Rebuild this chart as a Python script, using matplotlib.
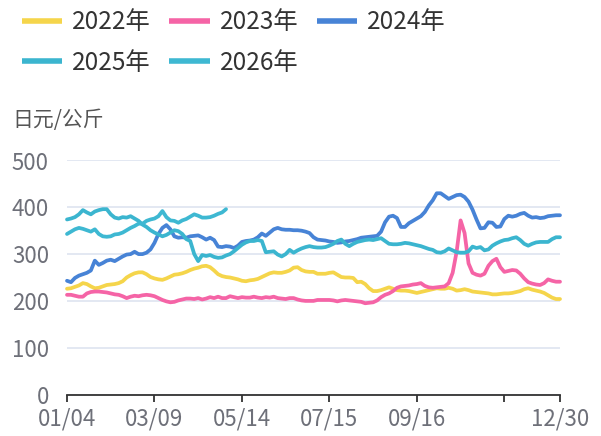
import numpy as np
import matplotlib
matplotlib.use("Agg")
import matplotlib.pyplot as plt
from matplotlib.lines import Line2D

plt.rcParams['font.family'] = ['Noto Sans CJK SC', 'DejaVu Sans']
plt.rcParams['axes.unicode_minus'] = False

# ---------------- data ----------------
tick_idx = [0, 22, 44, 66, 88, 110, 124]
tick_labels = ['01/04', '03/09', '05/14', '07/15', '09/16', '', '12/30']
y_ticks = [0, 100, 200, 300, 400, 500]

series_names = ['2022年', '2023年', '2024年', '2025年', '2026年']

y2022 = [226, 227, 230, 233, 238, 236, 231, 227, 228, 231, 234, 235, 236, 238, 242, 250, 255, 259, 261, 261,
         257, 251, 248, 246, 245, 248, 252, 256, 257, 259,
         262, 266, 269, 271, 274, 275, 272, 265, 257, 253, 251, 250, 248, 246, 243, 242, 244, 245, 247, 251,
         255, 259, 261, 260, 260, 262, 265, 271, 272, 266, 263, 262, 262,
         258, 258, 258, 260, 261, 256, 251, 250, 250, 249, 240, 241, 236, 227, 221, 221, 223, 226, 229, 226,
         223, 222, 222, 221, 219, 217, 219, 221, 223, 225, 227,
         226, 226, 228, 226, 222, 223, 225, 223, 220, 219, 218, 217, 216, 214, 214, 215, 216, 216, 217, 219,
         221, 225, 227, 224, 222, 220, 217, 212, 207, 204, 204]

y2023 = [213, 213, 211, 209, 209, 216, 219, 220, 220, 219, 218, 216, 214, 213, 210, 206, 209, 211, 210, 212,
         213, 212, 210, 206, 202, 199, 197, 198, 201, 203, 205,
         205, 204, 206, 203, 205, 208, 206, 209, 206, 206, 210, 208, 206, 208, 207, 207, 209, 207, 206, 208,
         207, 209, 206, 205, 204, 206, 206, 203, 201, 200, 200, 200,
         202, 202, 202, 202, 201, 199, 201, 202, 201, 200, 199, 198, 195, 196, 197, 201, 208, 213, 216, 221,
         228, 231, 232, 233, 235, 236, 238, 232, 229, 228, 229,
         230, 231, 238, 260, 305, 372, 345, 280, 260, 256, 254, 258, 275, 285, 290, 272, 262, 264, 266, 265,
         258, 248, 240, 237, 235, 234, 238, 246, 243, 241, 241]

y2024 = [243, 240, 249, 254, 257, 260, 265, 286, 277, 281, 286, 288, 285, 290, 295, 299, 300, 305, 300, 300,
         303, 310, 324, 343, 356, 362, 353, 338, 335, 336, 335,
         338, 339, 340, 336, 331, 335, 330, 316, 315, 317, 316, 313, 318, 326, 328, 329, 331, 336, 344, 339,
         346, 353, 356, 353, 352, 352, 351, 351, 350, 348, 345, 336,
         331, 330, 329, 327, 326, 324, 325, 327, 328, 330, 332, 335, 336, 337, 338, 339, 348, 368, 380, 382,
         377, 358, 358, 366, 371, 376, 381, 390, 404, 415, 430,
         430, 424, 418, 422, 426, 427, 422, 412, 395, 374, 355, 356, 368, 367, 358, 359, 375, 382, 380, 382,
         386, 388, 382, 378, 379, 377, 378, 381, 382, 383, 383]

y2025 = [374, 376, 379, 385, 394, 389, 385, 391, 394, 396, 396, 385, 378, 376, 379, 378, 381, 376, 371, 363,
         358, 351, 346, 342, 338, 341, 346, 351, 349, 343, 332,
         328, 300, 285, 298, 296, 298, 294, 292, 293, 297, 300, 306, 313, 320, 325, 328, 328, 330, 328, 304,
         305, 306, 299, 295, 300, 309, 303, 308, 312, 315, 317, 315,
         314, 314, 315, 318, 322, 328, 331, 322, 317, 322, 326, 328, 330, 331, 330, 332, 334, 328, 322, 321,
         321, 322, 324, 323, 321, 319, 317, 314, 311, 309, 304,
         303, 306, 312, 308, 304, 303, 303, 306, 316, 313, 315, 308, 310, 318, 323, 327, 330, 331, 334, 336,
         330, 322, 318, 322, 325, 326, 326, 326, 332, 336, 336]

y2026 = [343, 348, 353, 356, 354, 351, 348, 353, 343, 338, 337, 338, 342, 343, 346, 351, 356, 360, 365, 365,
         371, 374, 376, 381, 392, 379, 372, 371, 367, 372, 375,
         380, 385, 382, 378, 378, 379, 382, 386, 389, 396]

# ---------------- style ----------------
COLORS = ['#F5D54B', '#F564A6', '#4783D6', '#3BB5CF', '#3EB8D2']
GRID_COLOR = '#E0E6F1'
TICK_COLOR = '#6E7079'
LINE_W = 2.7

fig = plt.figure(figsize=(6.01, 4.36), dpi=100)
ax = fig.add_axes([67 / 601, 1 - 394.5 / 436, (560 - 67) / 601, (394.5 - 160.5) / 436])

all_series = [y2022, y2023, y2024, y2025, y2026]
handles = []
for name, ys, c in zip(series_names, all_series, COLORS):
    x = np.arange(len(ys))
    ax.plot(x, ys, color=c, lw=LINE_W, solid_joinstyle='round',
            solid_capstyle='round', clip_on=False, zorder=3)
    handles.append(Line2D([0], [0], color=c, lw=4.0, solid_capstyle='butt'))

ax.set_xlim(0, 124)
ax.set_ylim(0, 500)
ax.set_yticks(y_ticks)
ax.set_xticks(tick_idx)
ax.set_xticklabels(tick_labels)

ax.grid(True, axis='y', color=GRID_COLOR, lw=1.3, zorder=0)
ax.set_axisbelow(True)
for s in ['top', 'right', 'left']:
    ax.spines[s].set_visible(False)
ax.spines['bottom'].set_color('#333333')
ax.spines['bottom'].set_linewidth(1.3)
ax.spines['bottom'].set_zorder(4)

ax.tick_params(axis='y', length=0, pad=13, labelsize=16, labelcolor=TICK_COLOR)
ax.tick_params(axis='x', length=5, width=1.3, color='#333333', pad=4,
               labelsize=16, labelcolor=TICK_COLOR)

fig.text(12 / 601, 1 - 120 / 436, '日元/公斤', fontsize=15, color='#555555',
         ha='left', va='center')

# legend: 3 columns, row-major order
order = [0, 3, 1, 4, 2]
fig.legend([handles[i] for i in order], [series_names[i] for i in order],
           ncol=3, loc='upper left', bbox_to_anchor=(10 / 601, 1 + 3 / 436),
           frameon=False, fontsize=17.5, handlelength=1.65, handletextpad=0.42,
           columnspacing=0.75, labelspacing=0.6, borderpad=0.0,
           labelcolor='#333333')

fig.savefig('out.png', dpi=100)
